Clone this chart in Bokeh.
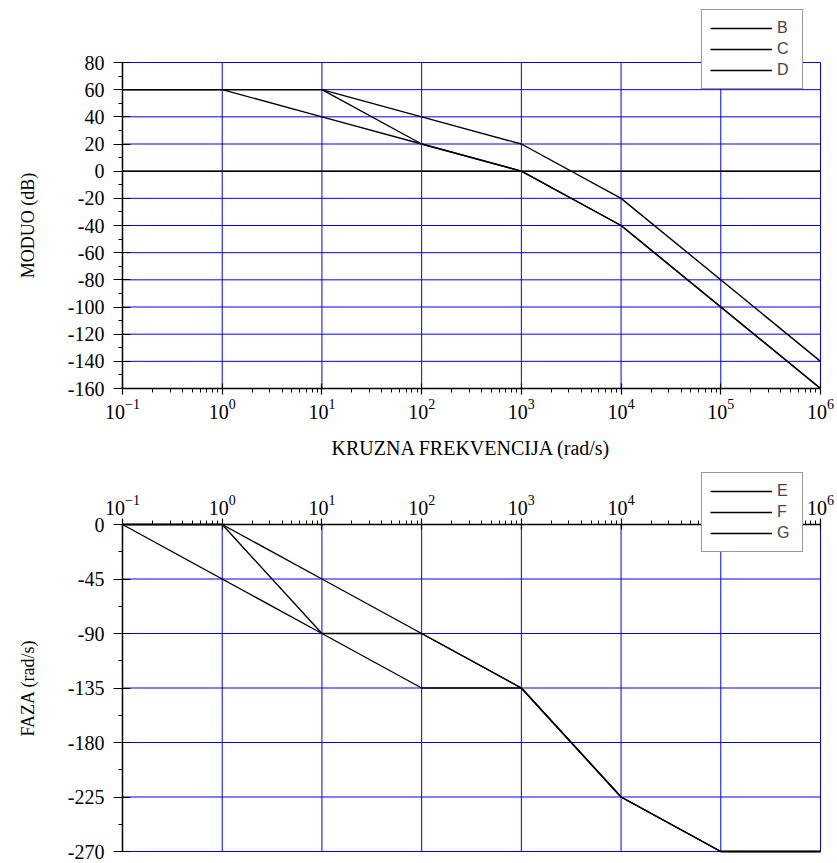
import math
from bokeh.plotting import figure
from bokeh.models import FixedTicker, Legend, LegendItem
from bokeh.layouts import column
from bokeh.embed import file_html
from bokeh.resources import INLINE

# ---- data: magnitude (MODUO) ----
freq_B = [0.1, 10, 100, 1000, 1e4, 1e6]
mod_B = [60, 60, 40, 20, -20, -140]
freq_C = [0.1, 10, 100, 1000, 1e4, 1e5, 1e6]
mod_C = [60, 60, 20, 0, -40, -100, -160]
freq_D = [0.1, 1, 10, 100, 1000, 1e4, 1e6]
mod_D = [60, 60, 40, 20, 0, -40, -160]
mod_reference = 0      # black 0 dB line

# ---- data: phase (FAZA) ----
freq_E = [0.1, 10, 100, 1000, 1e4, 1e5, 1e6]
ph_E = [0, -90, -135, -135, -225, -270, -270]
freq_F = [0.1, 1, 10, 100, 1000, 1e4, 1e5, 1e6]
ph_F = [0, 0, -90, -90, -135, -225, -270, -270]
freq_G = [0.1, 1, 10, 100, 1000, 1e4, 1e5, 1e6]
ph_G = [0, 0, -45, -90, -135, -225, -270, -270]

# ---- ticks ----
x_ticks = [0.1, 1, 10, 100, 1000, 1e4, 1e5, 1e6]
x_minor = [m * d for d in [0.1, 1, 10, 100, 1000, 1e4, 1e5] for m in range(2, 10)]
mod_ticks = [-160, -140, -120, -100, -80, -60, -40, -20, 0, 20, 40, 60, 80]
mod_minor = [-150, -130, -110, -90, -70, -50, -30, -10, 10, 30, 50, 70]
ph_ticks = [-270, -225, -180, -135, -90, -45, 0]
ph_minor = [-247.5, -202.5, -157.5, -112.5, -67.5, -22.5]

SERIF = "Liberation Serif"
SANS = "Liberation Sans"
GRID = "#0000ff"

# ---- layout geometry (pixels) ----
# Each figure's frame covers its whole canvas; the axes sit at fixed data
# locations inside it, so the plot areas can be placed exactly.
CANVAS_W = 835
DATA_W = 698           # width of the 0.1..1e6 area
LEFT_PAD = 122
TOP_CANVAS_H = 465
TOP_PLOT_TOP = 62      # pixel row of 80 dB
TOP_PLOT_H = 326       # height of the -160..80 area
BOT_CANVAS_H = 398
BOT_PLOT_TOP = 59      # pixel row of 0 deg (within the bottom canvas)
BOT_PLOT_H = 327       # height of the -270..0 area

x_lo, x_hi = min(x_ticks), max(x_ticks)
mod_lo, mod_hi = min(mod_ticks), max(mod_ticks)
ph_lo, ph_hi = min(ph_ticks), max(ph_ticks)

decade_px = DATA_W / (math.log10(x_hi) - math.log10(x_lo))
x_start = 10 ** (math.log10(x_lo) - LEFT_PAD / decade_px)
x_end = 10 ** (math.log10(x_lo) + (CANVAS_W - LEFT_PAD) / decade_px)

mod_px = TOP_PLOT_H / (mod_hi - mod_lo)
mod_end = mod_hi + TOP_PLOT_TOP / mod_px
mod_start = mod_lo - (TOP_CANVAS_H - TOP_PLOT_TOP - TOP_PLOT_H) / mod_px

ph_px = BOT_PLOT_H / (ph_hi - ph_lo)
ph_end = ph_hi + BOT_PLOT_TOP / ph_px
ph_start = ph_lo - (BOT_CANVAS_H - BOT_PLOT_TOP - BOT_PLOT_H) / ph_px


def style_axes(p, yticks, yminor):
    for ax in p.xaxis:
        ax.ticker = FixedTicker(ticks=x_ticks, minor_ticks=x_minor)
        ax.bounds = (x_lo, x_hi)
        ax.major_tick_in = 5
        ax.major_tick_out = 6
        ax.minor_tick_in = 0
        ax.minor_tick_out = 4
        ax.axis_line_width = 1.5
        ax.major_tick_line_width = 1.2
        ax.major_label_standoff = 4
        ax.major_label_text_font = SERIF
        ax.major_label_text_font_size = "20px"
        ax.major_label_text_color = "black"
        ax.axis_label_text_font = SERIF
        ax.axis_label_text_font_style = "normal"
        ax.axis_label_text_font_size = "20px"
        ax.axis_label_text_color = "black"
        ax.axis_label_standoff = 15
    for ax in p.yaxis:
        ax.ticker = FixedTicker(ticks=yticks, minor_ticks=yminor)
        ax.major_label_overrides = {v: str(v) for v in yticks}
        ax.bounds = (min(yticks), max(yticks))
        ax.fixed_location = x_lo
        ax.major_tick_in = 8
        ax.major_tick_out = 9
        ax.minor_tick_in = 0
        ax.minor_tick_out = 4
        ax.axis_line_width = 1.5
        ax.major_tick_line_width = 1.2
        ax.major_label_standoff = 9
        ax.major_label_text_font = SERIF
        ax.major_label_text_font_size = "20px"
        ax.major_label_text_color = "black"
        ax.axis_label_text_font = SERIF
        ax.axis_label_text_font_style = "normal"
        ax.axis_label_text_font_size = "18px"
        ax.axis_label_text_color = "black"
        ax.axis_label_standoff = 27
    p.xgrid.grid_line_color = None
    p.ygrid.grid_line_color = None
    p.outline_line_color = None
    # grid lines drawn as segments at the tick positions
    y_lo, y_hi = min(yticks), max(yticks)
    p.segment(x0=x_ticks, y0=[y_lo] * len(x_ticks), x1=x_ticks, y1=[y_hi] * len(x_ticks),
              line_color=GRID, line_width=1, level="underlay")
    p.segment(x0=[x_lo] * len(yticks), y0=yticks, x1=[x_hi] * len(yticks), y1=yticks,
              line_color=GRID, line_width=1, level="underlay")


def make_legend(items, loc):
    lg = Legend(items=items, location=loc)
    lg.label_text_font = SANS
    lg.label_text_font_size = "16px"
    lg.glyph_width = 62
    lg.glyph_height = 20
    lg.label_height = 20
    lg.label_width = 17
    lg.label_standoff = 5
    lg.spacing = 1
    lg.padding = 8
    lg.margin = 0
    lg.border_line_color = "#333333"
    lg.border_line_width = 1
    lg.background_fill_color = "white"
    lg.background_fill_alpha = 1.0
    return lg


def new_fig(yr, h, **kw):
    return figure(x_axis_type="log", x_range=(x_start, x_end), y_range=yr,
                  frame_width=CANVAS_W, frame_height=h,
                  min_border_left=0, min_border_right=0,
                  min_border_top=0, min_border_bottom=0,
                  toolbar_location=None, output_backend="svg", **kw)


# ---------------- top figure ----------------
p1 = new_fig((mod_start, mod_end), TOP_CANVAS_H,
             x_axis_label="KRUZNA FREKVENCIJA (rad/s)", y_axis_label="MODUO (dB)")
style_axes(p1, mod_ticks, mod_minor)
p1.xaxis.fixed_location = mod_lo

p1.segment(x0=[x_lo], y0=[mod_reference], x1=[x_hi], y1=[mod_reference],
           line_color="black", line_width=1.5)

rB = p1.line(freq_B, mod_B, line_color="black", line_width=1.4)
rC = p1.line(freq_C, mod_C, line_color="black", line_width=1.4)
rD = p1.line(freq_D, mod_D, line_color="black", line_width=1.4)
p1.add_layout(make_legend([LegendItem(label="B", renderers=[rB]),
                           LegendItem(label="C", renderers=[rC]),
                           LegendItem(label="D", renderers=[rD])], (701, 376)))

# ---------------- bottom figure ----------------
p2 = new_fig((ph_start, ph_end), BOT_CANVAS_H,
             x_axis_location="above", y_axis_label="FAZA (rad/s)")
style_axes(p2, ph_ticks, ph_minor)
p2.xaxis.fixed_location = ph_hi

rE = p2.line(freq_E, ph_E, line_color="black", line_width=1.4)
rF = p2.line(freq_F, ph_F, line_color="black", line_width=1.4)
rG = p2.line(freq_G, ph_G, line_color="black", line_width=1.4)
p2.add_layout(make_legend([LegendItem(label="E", renderers=[rE]),
                           LegendItem(label="F", renderers=[rF]),
                           LegendItem(label="G", renderers=[rG])], (701, 311)))

layout = column(p1, p2, spacing=0)
open("out.html", "w").write(file_html(layout, INLINE))
